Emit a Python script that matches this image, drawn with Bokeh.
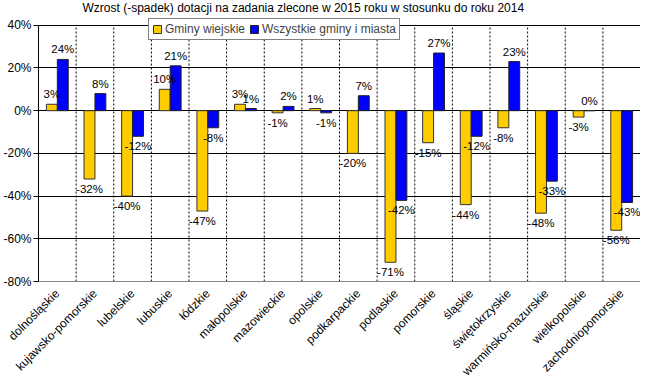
import math
from bokeh.plotting import figure
from bokeh.models import (ColumnDataSource, FactorRange, Range1d, Legend, LegendItem,
                          FixedTicker, PrintfTickFormatter, Label)
from bokeh.transform import dodge
from bokeh.embed import file_html
from bokeh.resources import INLINE
from bokeh.core.properties import value

title_text = "Wzrost (-spadek) dotacji na zadania zlecone w 2015 roku w stosunku do roku 2014"
categories = ["dolnośląskie", "kujawsko-pomorskie", "lubelskie", "lubuskie", "łódzkie",
              "małopolskie", "mazowieckie", "opolskie", "podkarpackie", "podlaskie",
              "pomorskie", "śląskie", "świętokrzyskie", "warmińsko-mazurskie",
              "wielkopolskie", "zachodniopomorskie"]
gminy_wiejskie = [3, -32, -40, 10, -47, 3, -1, 1, -20, -71, -15, -44, -8, -48, -3, -56]
wszystkie_gminy = [24, 8, -12, 21, -8, 1, 2, -1, 7, -42, 27, -12, 23, -33, 0, -43]
series_names = ["Gminy wiejskie", "Wszystkie gminy i miasta"]
y_ticks = [-80, -60, -40, -20, 0, 20, 40]

FONT = "Liberation Sans"
YELLOW = "#FFCC00"
BLUE = "#0000FF"
OFF = 0.145
BW = 0.29
Y_MIN, Y_MAX = y_ticks[0], y_ticks[-1]
HEADROOM = 11.6   # extra room above the top tick for title and legend

FIG_H = 386
BOTTOM = 104
p = figure(x_range=FactorRange(*categories), y_range=Range1d(Y_MIN, Y_MAX + HEADROOM),
           width=640, height=FIG_H, min_border_left=35, min_border_right=0,
           min_border_top=0, min_border_bottom=BOTTOM,
           output_backend="svg", toolbar_location=None)
frame_h = FIG_H - BOTTOM

p.add_layout(Label(x=44, y=frame_h - 1, x_units="screen", y_units="screen",
                   text=title_text, text_font=FONT, text_font_size="12px",
                   text_baseline="top", text_align="left", text_color="black"))

src = ColumnDataSource(dict(cat=categories, g=gminy_wiejskie, w=wszystkie_gminy))

# dashed separators between categories
sep = ColumnDataSource(dict(cat=categories[1:]))
p.segment(x0=dodge("cat", -0.5, range=p.x_range), x1=dodge("cat", -0.5, range=p.x_range),
          y0=Y_MIN, y1=Y_MAX, source=sep, line_color="black", line_width=1,
          line_dash="2 2", level="underlay")

def add_labels(vals, off):
    pos = [(c, v) for c, v in zip(categories, vals) if v >= 0]
    neg = [(c, v) for c, v in zip(categories, vals) if v < 0]
    for data, base, yo in ((pos, "bottom", -4), (neg, "top", 4)):
        s = ColumnDataSource(dict(cat=[d[0] for d in data], v=[d[1] for d in data],
                                  t=[f"{d[1]}%" for d in data]))
        p.text(x=dodge("cat", off, range=p.x_range), y="v", text="t", source=s,
               text_align="center", text_baseline=base, y_offset=yo,
               text_font=value(FONT), text_font_size="11.5px", text_color="black")

r1 = p.vbar(x=dodge("cat", -OFF, range=p.x_range), top="g", bottom=0, width=BW,
            fill_color=YELLOW, line_color="#333333", line_width=1, source=src)
r2 = p.vbar(x=dodge("cat", OFF, range=p.x_range), top="w", bottom=0, width=BW,
            fill_color=BLUE, line_color="#222222", line_width=1, source=src)

add_labels(gminy_wiejskie, -OFF)
add_labels(wszystkie_gminy, OFF)

p.xgrid.visible = False
p.ygrid.ticker = FixedTicker(ticks=y_ticks[1:])
p.ygrid.grid_line_color = "black"
p.ygrid.grid_line_width = 1
p.outline_line_color = None

p.yaxis.ticker = FixedTicker(ticks=y_ticks)
p.yaxis.bounds = (Y_MIN, Y_MAX)
p.yaxis.formatter = PrintfTickFormatter(format="%d%%")
p.yaxis.major_tick_out = 5
p.yaxis.major_tick_in = 0
p.yaxis.minor_tick_line_color = None
p.yaxis.axis_line_color = "black"
p.yaxis.major_tick_line_color = "black"
p.yaxis.major_label_standoff = 2
p.yaxis.major_label_text_font = FONT
p.yaxis.major_label_text_font_size = "12px"
p.yaxis.major_label_text_color = "black"

p.xaxis.major_label_orientation = math.pi / 4
p.xaxis.major_tick_line_color = None
p.xaxis.major_tick_out = 0
p.xaxis.major_tick_in = 0
p.xaxis.axis_line_color = "#888888"
p.xaxis.major_label_standoff = 10
p.xaxis.major_label_text_font = FONT
p.xaxis.major_label_text_font_size = "12px"
p.xaxis.major_label_text_color = "black"

legend = Legend(items=[LegendItem(label=series_names[0], renderers=[r1]),
                       LegendItem(label=series_names[1], renderers=[r2])],
                orientation="horizontal", location=(110, 241), margin=0,
                padding=3, spacing=4, label_standoff=3, glyph_width=10, glyph_height=10,
                label_text_font=FONT, label_text_font_size="12px",
                border_line_color="black", border_line_width=1,
                background_fill_color="white", background_fill_alpha=1)
p.add_layout(legend)

open("out.html", "w").write(file_html(p, INLINE))
